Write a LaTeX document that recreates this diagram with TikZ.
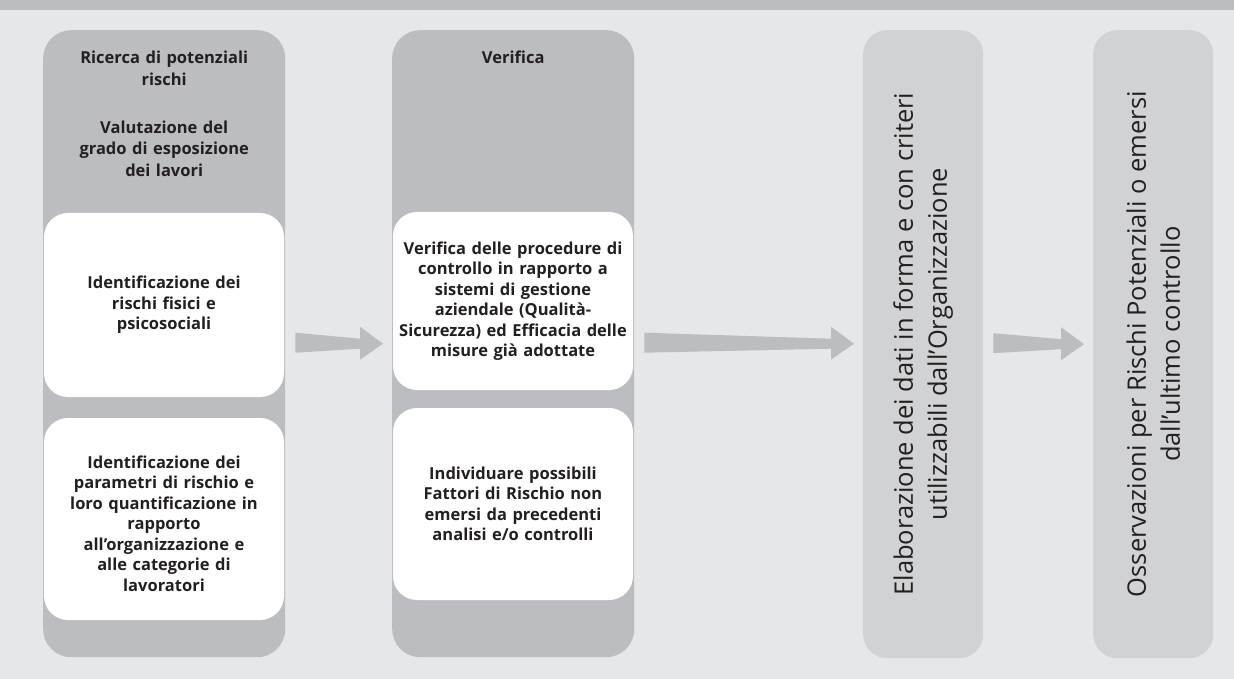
\documentclass[tikz,border=0pt]{standalone}
\usepackage{fontspec}
\setmainfont{Open Sans}
\usetikzlibrary{calc,positioning}
\definecolor{bggray}{HTML}{E6E7E8}
\definecolor{bargray}{HTML}{BCBDC0}
\definecolor{colgray}{HTML}{BCBDC0}
\definecolor{lightcol}{HTML}{D1D2D4}
\definecolor{txt}{HTML}{231F20}
\tikzset{
  darkcol/.style={fill=colgray,rounded corners=28,minimum width=242,minimum height=627,inner sep=0pt,anchor=north west},
  lightbox/.style={fill=lightcol,rounded corners=24,minimum width=120,minimum height=628,inner sep=0pt,anchor=north west},
  whitebox/.style={fill=white,rounded corners=24,minimum width=240,inner sep=0pt,text width=236,align=center,
    font=\fontsize{16.5}{20.5}\selectfont\bfseries,text=txt},
  headtext/.style={text width=236,align=center,font=\fontsize{16.5}{21.5}\selectfont\bfseries,text=txt,anchor=north,inner sep=0pt},
  vtext/.style={rotate=90,align=center,font=\fontsize{25.5}{34}\selectfont,text=txt,inner sep=0pt},
}
% block arrow between two columns
\newcommand{\flowarrow}[2]{%
  \fill[colgray] let \p1=(#1.east), \p2=(#2.west) in
    (\x1+10pt,\y1+11pt) -- (\x2-32pt,\y1+5pt) -- (\x2-32pt,\y1+17pt) -- (\x2-9pt,\y1)
    -- (\x2-32pt,\y1-16pt) -- (\x2-32pt,\y1-5pt) -- (\x1+10pt,\y1-9pt) -- cycle;}
\begin{document}
\begin{tikzpicture}[x=1pt,y=-1pt]
  \useasboundingbox (0,0) rectangle (1234,679);
  \fill[bggray] (0,0) rectangle (1234,679);
  \fill[bargray] (0,0) rectangle (1234,10);
  % columns
  \node[darkcol] (colA) at (43,30) {};
  \node[darkcol] (colB) at (392,30) {};
  \node[lightbox] (colC) at (863,30) {};
  \node[lightbox] (colD) at (1093,30) {};
  % headers
  \node[headtext] (headA) at ($(colA.north)+(0,21)$) {Ricerca di potenziali\\rischi\\[5pt]~\\Valutazione del\\grado di esposizione\\dei lavori};
  \node[headtext] (headB) at ($(colB.north)+(0,21)$) {Verifica};
  % white boxes
  \node[whitebox,minimum height=184] (boxA1) at (164,305) {Identificazione dei\\rischi fisici e\\psicosociali};
  \node[whitebox,minimum height=202] (boxA2) at (164,519) {\mbox{}\\[1.5pt]Identificazione dei\\parametri di rischio e\\loro quantificazione in\\rapporto\\all’organizzazione e\\alle categorie di\\lavoratori};
  \node[whitebox,minimum height=178] (boxB1) at (513,301) {Verifica delle procedure di\\controllo in rapporto a\\sistemi di gestione\\aziendale (Qualità-\\Sicurezza) ed Efficacia delle\\misure già adottate};
  \node[whitebox,minimum height=192] (boxB2) at (513,504) {Individuare possibili\\Fattori di Rischio non\\emersi da precedenti\\analisi e/o controlli};
  % vertical texts
  \node[vtext] (txtC) at (colC.center) {Elaborazione dei dati in forma e con criteri\\utilizzabili dall’Organizzazione};
  \node[vtext] (txtD) at (colD.center) {Osservazioni per Rischi Potenziali o emersi\\dall’ultimo controllo};
  % arrows
  \flowarrow{colA}{colB}
  \flowarrow{colB}{colC}
  \flowarrow{colC}{colD}
\end{tikzpicture}
\end{document}
